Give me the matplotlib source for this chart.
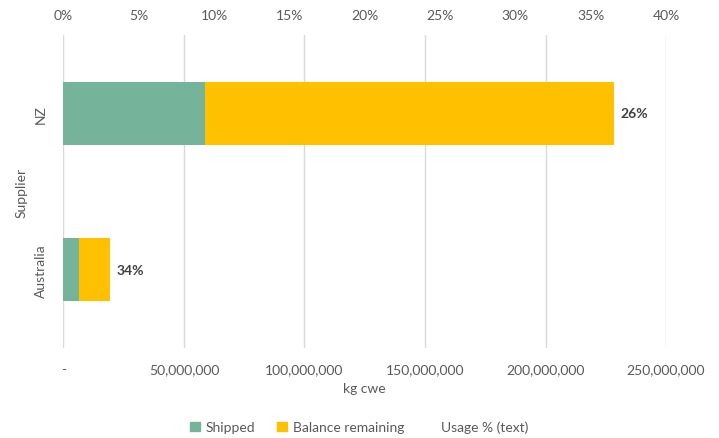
import matplotlib.pyplot as plt
import matplotlib.ticker as mticker
from matplotlib.patches import Patch
from matplotlib.lines import Line2D

plt.rcParams['font.family'] = ['Lato', 'DejaVu Sans']

# data (bottom to top, Excel order)
suppliers = ['Australia', 'NZ']
shipped = [6.6e6, 58.7e6]
balance = [12.6e6, 169.7e6]
usage_text = ['34%', '26%']

green = '#75b39b'
gold = '#ffc000'
grey = '#595959'
grid_c = '#d9d9d9'
fs = 10

fig = plt.figure(figsize=(7.19, 4.39), dpi=100)
ax = fig.add_axes([0.0883, 0.205, 0.838, 0.713])

ypos = list(range(len(suppliers)))
ax.barh(ypos, shipped, height=0.4, color=green, label='Shipped', zorder=3)
ax.barh(ypos, balance, left=shipped, height=0.4, color=gold,
        label='Balance remaining', zorder=3)

for y, s, b, t in zip(ypos, shipped, balance, usage_text):
    ax.annotate(t, (s + b, y), xytext=(5, 0), textcoords='offset points',
                va='center', ha='left', fontsize=fs, fontweight='bold',
                color='#404040')

ax.set_xlim(0, 250e6)
ax.set_ylim(-0.5, 1.5)
ax.set_xticks([0, 50e6, 100e6, 150e6, 200e6, 250e6])
ax.xaxis.set_major_formatter(mticker.FuncFormatter(
    lambda v, p: '-' if v == 0 else f'{v:,.0f}'))
ax.set_yticks(ypos)
ax.set_yticklabels(suppliers, rotation=90, va='center')
ax.tick_params(length=0, colors=grey, labelsize=fs)
ax.tick_params(axis='x', pad=11)
ax.tick_params(axis='y', pad=12)
ax.grid(axis='x', color=grid_c, linewidth=1, zorder=0)
for sp in ax.spines.values():
    sp.set_visible(False)
ax.set_xlabel('kg cwe', color=grey, fontsize=fs, labelpad=5)
ax.set_ylabel('Supplier', color=grey, fontsize=fs, labelpad=5)

# secondary axis for usage %
ax2 = ax.twiny()
ax2.set_xlim(0, 0.4)
ax2.set_xticks([i * 0.05 for i in range(9)])
ax2.xaxis.set_major_formatter(mticker.PercentFormatter(1.0, decimals=0))
ax2.tick_params(length=0, colors=grey, labelsize=fs, pad=10)
for sp in ax2.spines.values():
    sp.set_visible(False)

handles = [Patch(color=green), Patch(color=gold),
           Line2D([], [], linestyle='none')]
labels = ['Shipped', 'Balance remaining', 'Usage % (text)']
fig.legend(handles, labels, loc='lower center', ncol=3, frameon=False,
           bbox_to_anchor=(0.5, -0.018), fontsize=fs, labelcolor=grey,
           handlelength=0.7, handleheight=0.7, handletextpad=0.4,
           columnspacing=1.6)

plt.savefig('out.png', dpi=100)
